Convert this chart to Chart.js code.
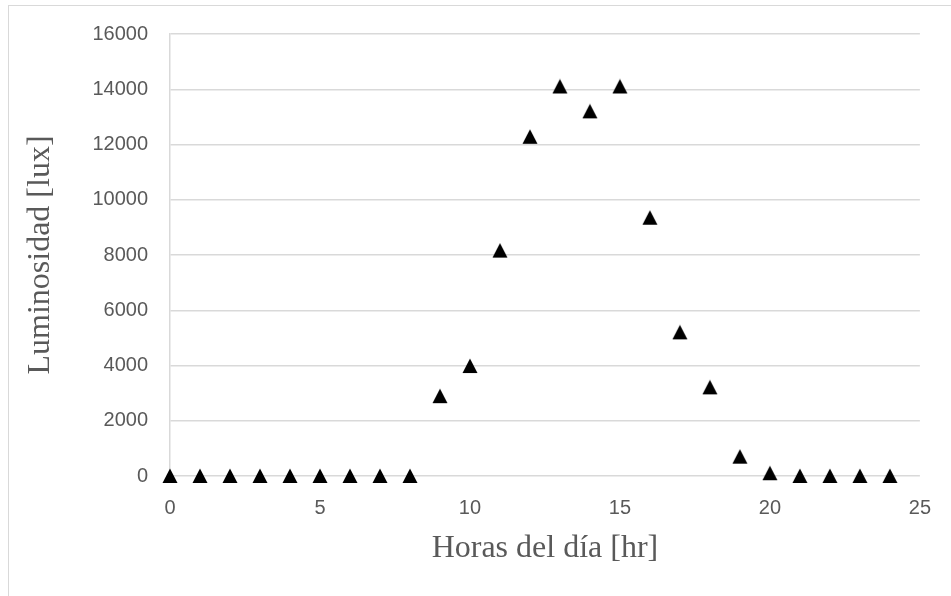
<!DOCTYPE html>
<html>
<head>
<meta charset="utf-8">
<script src="https://cdn.jsdelivr.net/npm/chart.js@4.4.1/dist/chart.umd.min.js"></script>
<style>
  html, body { margin: 0; padding: 0; background: #fff; }
  #wrap { position: relative; width: 951px; height: 596px; overflow: hidden; }
  #frame { position: absolute; left: 8px; top: 5px; width: 960px; height: 600px; border-left: 1px solid #d9d9d9; border-top: 1px solid #d9d9d9; box-sizing: border-box; }
  canvas { position: absolute; left: 0; top: 0; }
</style>
</head>
<body>
<div id="wrap">
  <div id="frame"></div>
  <canvas id="c" width="951" height="596"></canvas>
</div>
<script>
const hours = [0,1,2,3,4,5,6,7,8,9,10,11,12,13,14,15,16,17,18,19,20,21,22,23,24];
const luminosity = [0,0,0,0,0,0,0,0,0,2890,3980,8160,12280,14100,13200,14100,9350,5200,3210,700,100,0,0,0,0];
const xTitle = 'Horas del día [hr]';
const yTitle = 'Luminosidad [lux]';

// Triangle marker with its bounding box centred on the data point
function makeTriangle() {
  const s = 16;
  const cv = document.createElement('canvas');
  cv.width = s; cv.height = s;
  const g = cv.getContext('2d');
  g.fillStyle = '#000';
  g.beginPath();
  g.moveTo(s / 2, 0.5);
  g.lineTo(s - 0.5, s - 1);
  g.lineTo(0.5, s - 1);
  g.closePath();
  g.fill();
  return cv;
}
const tri = makeTriangle();

const points = hours.map((h, i) => ({ x: h, y: luminosity[i] }));
const plain = (v) => String(v);

new Chart(document.getElementById('c'), {
  type: 'scatter',
  data: {
    datasets: [{
      data: points,
      pointStyle: tri,
      pointRadius: 8,
      pointHoverRadius: 8,
      backgroundColor: '#000',
      borderColor: '#000',
      clip: false
    }]
  },
  options: {
    responsive: false,
    animation: false,
    events: [],
    layout: { padding: { top: 33, right: 31, bottom: 0, left: 0 } },
    plugins: { legend: { display: false }, tooltip: { enabled: false } },
    scales: {
      x: {
        type: 'linear',
        min: 0, max: 25,
        ticks: { stepSize: 5, color: '#595959', font: { family: 'Liberation Sans', size: 20 }, padding: 20, callback: plain },
        grid: { display: false, drawTicks: false },
        border: { display: false },
        title: { display: true, text: xTitle, color: '#595959', font: { family: 'Liberation Serif', size: 32 }, padding: { top: 0, bottom: 28 } },
        afterFit: (s) => { s.height = 120; }
      },
      y: {
        min: 0, max: 16000,
        ticks: { stepSize: 2000, color: '#595959', font: { family: 'Liberation Sans', size: 20 }, padding: 22, callback: plain },
        grid: { color: '#d9d9d9', lineWidth: 1.5, drawTicks: false },
        border: { display: true, color: '#d9d9d9', width: 1.5 },
        title: { display: true, text: yTitle, color: '#595959', font: { family: 'Liberation Serif', size: 32 }, padding: { top: 21, bottom: 0 } },
        afterFit: (s) => { s.width = 170; }
      }
    }
  }
});
</script>
</body>
</html>
